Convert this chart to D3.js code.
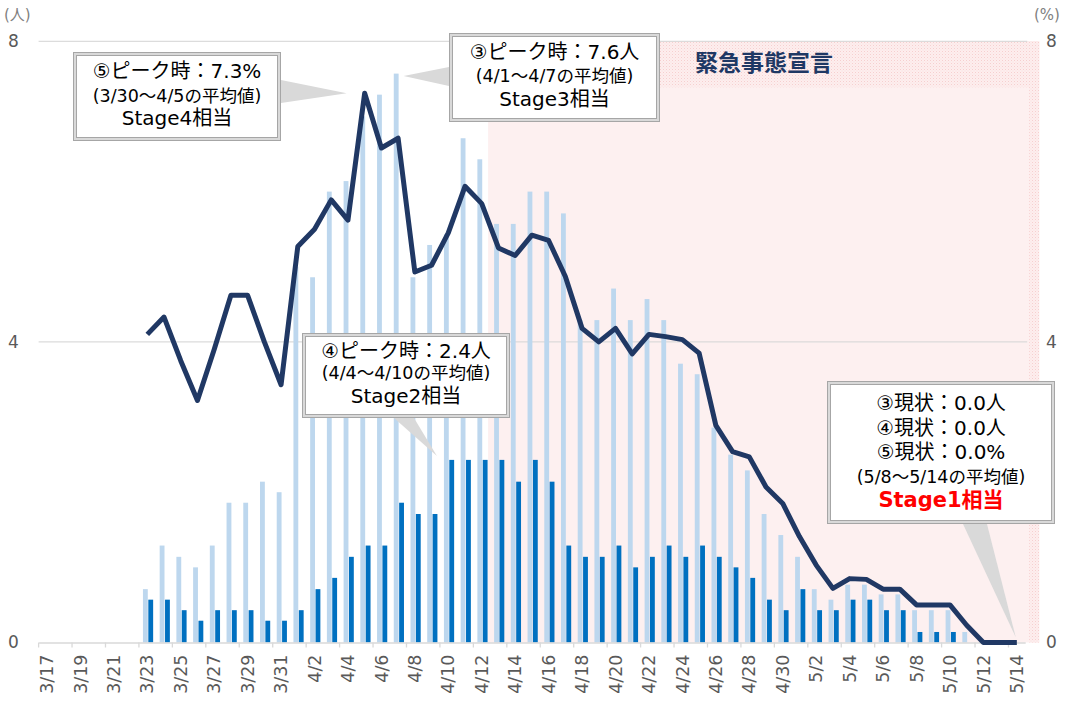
<!DOCTYPE html>
<html><head><meta charset="utf-8">
<script src="https://cdn.jsdelivr.net/npm/d3@7"></script>
<style>
body{margin:0;background:#fff;}
svg{display:block;font-family:"DejaVu Sans","Noto Sans CJK JP",sans-serif;}
</style></head><body>
<svg id="chart" width="1067" height="701"></svg>
<script>
// ---------------- data ----------------
const dates = ["3/17","3/18","3/19","3/20","3/21","3/22","3/23","3/24","3/25","3/26","3/27","3/28","3/29","3/30","3/31",
  "4/1","4/2","4/3","4/4","4/5","4/6","4/7","4/8","4/9","4/10","4/11","4/12","4/13","4/14","4/15","4/16","4/17","4/18","4/19","4/20",
  "4/21","4/22","4/23","4/24","4/25","4/26","4/27","4/28","4/29","4/30",
  "5/1","5/2","5/3","5/4","5/5","5/6","5/7","5/8","5/9","5/10","5/11","5/12","5/13","5/14"];
// ③ (people, light bars)
const series3 = [0,0,0,0,0,0,
  0.71,1.29,1.14,1.00,1.29,1.86,1.86,2.14,2.00,
  5.00,4.86,6.00,6.14,7.00,7.29,7.57,4.86,5.29,5.43,
  6.71,6.43,5.57,5.57,6.00,6.00,5.71,4.29,4.29,4.71,
  4.29,4.57,4.29,3.71,3.57,2.86,2.50,2.29,1.71,1.43,
  1.14,0.71,0.57,0.77,0.77,0.64,0.64,0.43,0.43,0.43,0.14,0,0,0];
// ④ (people, dark bars)
const series4 = [0,0,0,0,0,0,
  0.57,0.57,0.43,0.29,0.43,0.43,0.43,0.29,0.29,
  0.43,0.71,0.86,1.14,1.29,1.29,1.86,1.71,1.71,2.43,
  2.43,2.43,2.43,2.14,2.43,2.14,1.29,1.14,1.14,1.29,
  1.00,1.14,1.29,1.14,1.29,1.14,1.00,0.86,0.57,0.43,
  0.71,0.43,0.43,0.57,0.57,0.43,0.43,0.14,0.14,0.14,0,0,0,0];
// ⑤ (%, line)
const series5 = [null,null,null,null,null,null,
  4.10,4.33,3.75,3.22,3.90,4.62,4.62,4.00,3.43,
  5.27,5.50,5.89,5.62,7.31,6.58,6.71,4.93,5.02,5.45,
  6.07,5.84,5.25,5.15,5.42,5.35,4.87,4.18,4.00,4.18,
  3.84,4.10,4.07,4.03,3.85,2.89,2.54,2.47,2.07,1.85,
  1.41,1.03,0.72,0.85,0.84,0.71,0.71,0.50,0.50,0.50,0.23,0,0,0];
const yTicks = [0,4,8];
const xTickLabels = dates.filter((d,i)=>i%2===0);
const emergencyStart = "4/13";
const emergencyLabel = "緊急事態宣言";
const leftUnit = "(人)", rightUnit = "(%)";

// ---------------- layout ----------------
const svg = d3.select("#chart");
const plotL = 38.6, plotR = 1025.2, plotT = 41.3, plotB = 642.5;
const x = d3.scaleBand().domain(dates).range([plotL, plotR]).padding(0);
const bw = x.bandwidth();
const x1 = d3.scaleBand().domain(["s3","s4"]).range([bw*0.24, bw*0.85]).paddingInner(0.1);
const y = d3.scaleLinear().domain([0,8]).range([plotB, plotT]);
const cx = d => x(d) + bw/2;

const defs = svg.append("defs");
const pat = defs.append("pattern").attr("id","hatch").attr("patternUnits","userSpaceOnUse")
  .attr("width",3).attr("height",3);
pat.append("rect").attr("width",3).attr("height",3).attr("fill","#fdeeee");
pat.append("rect").attr("width",1).attr("height",1).attr("fill","#f6cfcf");
pat.append("rect").attr("x",1.5).attr("y",1.5).attr("width",1).attr("height",1).attr("fill","#f9dede");

// emergency shaded region
const ex0 = x(emergencyStart) - 2, ex1 = plotR + 14;
svg.append("rect").attr("x",ex0).attr("y",plotT).attr("width",ex1-ex0).attr("height",plotB-plotT).attr("fill","#fdf0f0");
svg.append("rect").attr("x",ex0).attr("y",plotT).attr("width",ex1-ex0).attr("height",46).attr("fill","url(#hatch)");
svg.append("rect").attr("x",ex1-10).attr("y",plotT).attr("width",10).attr("height",plotB-plotT).attr("fill","url(#hatch)");

// gridlines
svg.append("g").selectAll("line").data(yTicks.filter(t=>t>0)).join("line")
  .attr("x1",plotL).attr("x2",plotR+2).attr("y1",d=>y(d)).attr("y2",d=>y(d))
  .attr("stroke","#d9d9d9").attr("stroke-width",1.3).attr("opacity",0.9);

// emergency label
svg.append("text").attr("x",764).attr("y",61).attr("text-anchor","middle").attr("dominant-baseline","central")
  .attr("font-family","Noto Sans CJK JP").attr("font-weight","bold").attr("font-size",23).attr("fill","#1f3864")
  .text(emergencyLabel);

// bars
const gb = svg.append("g");
gb.selectAll("rect.s3").data(dates).join("rect").attr("class","s3")
  .attr("x",d=>x(d)+x1("s3")).attr("width",x1.bandwidth())
  .attr("y",(d,i)=>y(series3[i])).attr("height",(d,i)=>y(0)-y(series3[i]))
  .attr("fill","#bdd7ee");
gb.selectAll("rect.s4").data(dates).join("rect").attr("class","s4")
  .attr("x",d=>x(d)+x1("s4")).attr("width",x1.bandwidth())
  .attr("y",(d,i)=>y(series4[i])).attr("height",(d,i)=>y(0)-y(series4[i]))
  .attr("fill","#0070c0");

// x axis
const xAxis = d3.axisBottom(x).tickValues(xTickLabels).tickSize(0).tickFormat(d=>d);
const gx = svg.append("g").attr("transform",`translate(0,${plotB})`).call(xAxis);
gx.select(".domain").attr("stroke","#d9d9d9").attr("stroke-width",1.5);
gx.selectAll(".tick text").attr("transform","rotate(-90)")
  .attr("x",-12).attr("y",0).attr("dy","0.35em").attr("text-anchor","end")
  .attr("font-size",17.5).attr("fill","#595959").attr("font-family","DejaVu Sans");
// tick marks at category boundaries (every two days)
svg.append("g").selectAll("line").data(xTickLabels).join("line")
  .attr("x1",d=>x(d)).attr("x2",d=>x(d)).attr("y1",plotB).attr("y2",plotB+5)
  .attr("stroke","#d9d9d9").attr("stroke-width",1.3);

// y axes labels
const yAxisL = d3.axisLeft(y).tickValues(yTicks).tickSize(0);
const gyl = svg.append("g").attr("transform","translate(8,0)").call(yAxisL);
gyl.select(".domain").remove();
gyl.selectAll(".tick text").attr("x",0).attr("text-anchor","start").attr("font-size",17).attr("fill","#595959").attr("font-family","DejaVu Sans");
const yAxisR = d3.axisRight(y).tickValues(yTicks).tickSize(0);
const gyr = svg.append("g").attr("transform","translate(1046,0)").call(yAxisR);
gyr.select(".domain").remove();
gyr.selectAll(".tick text").attr("x",0).attr("text-anchor","start").attr("font-size",17).attr("fill","#595959").attr("font-family","DejaVu Sans");
svg.append("text").attr("x",4).attr("y",15).attr("dominant-baseline","central").attr("font-size",15).attr("fill","#7f7f7f").text(leftUnit);
svg.append("text").attr("x",1034).attr("y",15).attr("dominant-baseline","central").attr("font-size",15).attr("fill","#7f7f7f").text(rightUnit);

// line
const line = d3.line().defined(d=>d.v!=null).x(d=>cx(d.d)).y(d=>y(d.v));
svg.append("path").datum(dates.map((d,i)=>({d, v:series5[i]})))
  .attr("d",line).attr("fill","none").attr("stroke","#203864").attr("stroke-width",5).attr("stroke-linejoin","round");

// ---------------- callouts ----------------
const iPk5 = dates.indexOf("4/5"), iPk3 = dates.indexOf("4/7"), iPk4 = dates.indexOf("4/10"), iNow = dates.indexOf("5/14");
const callouts = [
  {x:73,y:52,w:208,h:89, base:[[281,80],[281,103]], tip:[cx(dates[iPk5])-18, y(series5[iPk5])],
   lines:[["⑤ピーク時：7.3%",20,71,"#000",400],["(3/30～4/5の平均値)",17.5,96,"#000",400],["Stage4相当",20,118,"#000",400]]},
  {x:449,y:33,w:211,h:89, base:[[449,67],[449,86]], tip:[x(dates[iPk3])+x1("s3")+x1.bandwidth()+5, y(series3[iPk3])+2.5],
   lines:[["③ピーク時：7.6人",20,52,"#000",400],["(4/1～4/7の平均値)",17.5,76,"#000",400],["Stage3相当",20,99,"#000",400]]},
  {x:302,y:333,w:208,h:85, base:[[394,418],[414,418]], tip:[x(dates[iPk4])-3, y(series4[iPk4])-4],
   lines:[["④ピーク時：2.4人",20,351,"#000",400],["(4/4～4/10の平均値)",17.5,373,"#000",400],["Stage2相当",20,396,"#000",400]]},
  {x:827,y:381,w:228,h:143, base:[[963,524],[987,524]], tip:[cx(dates[iNow])-1, y(series5[iNow])-5],
   lines:[["③現状：0.0人",20,403,"#000",400],["④現状：0.0人",20,427.5,"#000",400],["⑤現状：0.0%",20,452,"#000",400],
          ["(5/8～5/14の平均値)",17.5,476.5,"#000",400],["Stage1相当",21,499.5,"#ff0000",700]]}
];
const gc = svg.append("g");
callouts.forEach(c=>{
  gc.append("path").attr("d", d3.line()([c.base[0], c.tip, c.base[1]]) + "Z").attr("fill","#d9d9d9");
  gc.append("rect").attr("x",c.x+0.5).attr("y",c.y+0.5).attr("width",c.w-1).attr("height",c.h-1)
    .attr("fill","#fff").attr("stroke","#a6a6a6").attr("stroke-width",1);
  gc.append("rect").attr("x",c.x+2).attr("y",c.y+2).attr("width",c.w-4).attr("height",c.h-4)
    .attr("fill","none").attr("stroke","#d9d9d9").attr("stroke-width",2);
  gc.append("rect").attr("x",c.x+3.5).attr("y",c.y+3.5).attr("width",c.w-7).attr("height",c.h-7)
    .attr("fill","none").attr("stroke","#a6a6a6").attr("stroke-width",1);
  c.lines.forEach(([t,s,ly,col,fw])=>{
    gc.append("text").attr("x",c.x+c.w/2).attr("y",ly).attr("text-anchor","middle").attr("dominant-baseline","central")
      .attr("font-size",s).attr("fill",col).attr("font-weight",fw).text(t);
  });
});
</script>
</body></html>
